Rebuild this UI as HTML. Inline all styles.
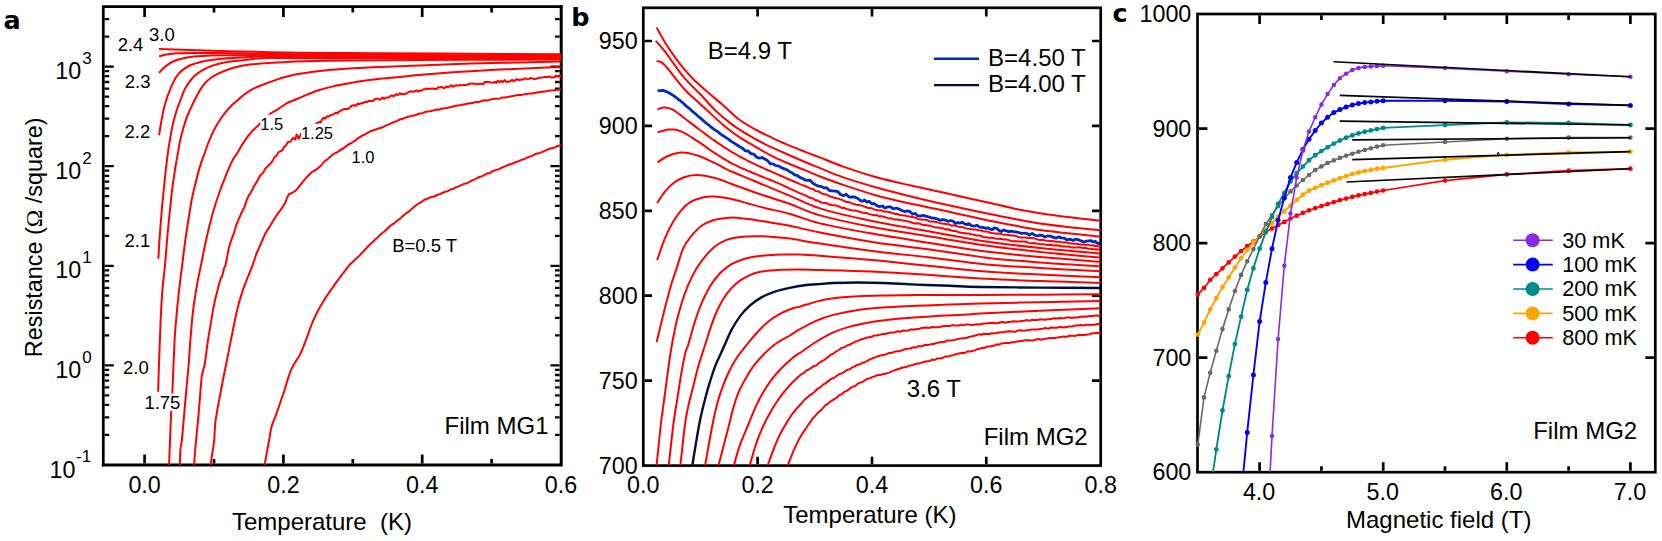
<!DOCTYPE html>
<html lang="en"><head><meta charset="utf-8"><title>Resistance versus temperature and magnetic field</title>
<style>html,body{margin:0;padding:0;background:#fff}body{width:1662px;height:541px;overflow:hidden}svg{display:block}text{font-family:'Liberation Sans', Arial, sans-serif;fill:#000}.b{font-family:'DejaVu Sans', 'Liberation Sans', sans-serif;font-weight:bold;font-size:25.5px}.t{font-size:23.3px}.u{font-size:24px}.s{font-size:18.5px}.s2{font-size:16.5px}.l{font-size:21.7px}.sup{font-size:17px}</style>
</head><body>
<svg width="1662" height="541" viewBox="0 0 1662 541">
<rect width="1662" height="541" fill="#fff"/>
<g id="panel-a">
<clipPath id="ca"><rect x="103.3" y="6.7" width="457.7" height="458.2"/></clipPath>
<path d="M144.6 463.5L144.6 454.5M144.6 8L144.6 17M214 463.5L214 459.1M214 8L214 12.4M283.4 463.5L283.4 454.5M283.4 8L283.4 17M352.8 463.5L352.8 459.1M352.8 8L352.8 12.4M422.2 463.5L422.2 454.5M422.2 8L422.2 17M491.6 463.5L491.6 459.1M491.6 8L491.6 12.4" stroke="#000" stroke-width="2.7" fill="none"/>
<path d="M104.6 434.9L109.2 434.9M559.6 434.9L555 434.9M104.6 417.4L109.2 417.4M559.6 417.4L555 417.4M104.6 404.9L109.2 404.9M559.6 404.9L555 404.9M104.6 395.3L109.2 395.3M559.6 395.3L555 395.3M104.6 387.4L109.2 387.4M559.6 387.4L555 387.4M104.6 380.7L109.2 380.7M559.6 380.7L555 380.7M104.6 375L109.2 375M559.6 375L555 375M104.6 369.9L109.2 369.9M559.6 369.9L555 369.9M104.6 365.3L113.8 365.3M559.6 365.3L550.4 365.3M104.6 335.3L109.2 335.3M559.6 335.3L555 335.3M104.6 317.8L109.2 317.8M559.6 317.8L555 317.8M104.6 305.4L109.2 305.4M559.6 305.4L555 305.4M104.6 295.7L109.2 295.7M559.6 295.7L555 295.7M104.6 287.8L109.2 287.8M559.6 287.8L555 287.8M104.6 281.2L109.2 281.2M559.6 281.2L555 281.2M104.6 275.4L109.2 275.4M559.6 275.4L555 275.4M104.6 270.3L109.2 270.3M559.6 270.3L555 270.3M104.6 265.8L113.8 265.8M559.6 265.8L550.4 265.8M104.6 235.8L109.2 235.8M559.6 235.8L555 235.8M104.6 218.2L109.2 218.2M559.6 218.2L555 218.2M104.6 205.8L109.2 205.8M559.6 205.8L555 205.8M104.6 196.2L109.2 196.2M559.6 196.2L555 196.2M104.6 188.3L109.2 188.3M559.6 188.3L555 188.3M104.6 181.6L109.2 181.6M559.6 181.6L555 181.6M104.6 175.8L109.2 175.8M559.6 175.8L555 175.8M104.6 170.7L109.2 170.7M559.6 170.7L555 170.7M104.6 166.2L113.8 166.2M559.6 166.2L550.4 166.2M104.6 136.2L109.2 136.2M559.6 136.2L555 136.2M104.6 118.7L109.2 118.7M559.6 118.7L555 118.7M104.6 106.2L109.2 106.2M559.6 106.2L555 106.2M104.6 96.6L109.2 96.6M559.6 96.6L555 96.6M104.6 88.7L109.2 88.7M559.6 88.7L555 88.7M104.6 82L109.2 82M559.6 82L555 82M104.6 76.2L109.2 76.2M559.6 76.2L555 76.2M104.6 71.2L109.2 71.2M559.6 71.2L555 71.2M104.6 66.6L113.8 66.6M559.6 66.6L550.4 66.6M104.6 36.6L109.2 36.6M559.6 36.6L555 36.6M104.6 19.1L109.2 19.1M559.6 19.1L555 19.1" stroke="#000" stroke-width="2.3" fill="none"/>
<path d="M103.3 6.7H561M103.3 6.7V464.9" stroke="#000" stroke-width="2.7" fill="none" stroke-linecap="square"/>
<path d="M103.3 465H561.2M561.2 6.7V465" stroke="#000" stroke-width="3" fill="none" stroke-linecap="square"/>
<g clip-path="url(#ca)" fill="none" stroke="#ff0000" stroke-width="2" stroke-linejoin="round" stroke-linecap="butt">
<path d="M158.9 49.1C177.4 49.6 233.2 51.5 270 52.2C306.9 52.9 346.7 52.9 380 53.2C413.3 53.5 439.7 53.6 470 53.8C500.3 54 546.7 54.1 562 54.2"/>
<path d="M159.1 56.4C160.3 56.1 163.5 54.9 166.6 54.4C169.7 53.9 173.1 53.5 177.7 53.3C182.3 53.1 187.9 53 194.4 53C200.9 53 203.9 52.9 216.5 53.1C229.1 53.3 242.8 53.7 270 54C297.2 54.3 331.3 54.5 380 54.8C428.7 55.1 531.7 55.5 562 55.6"/>
<path d="M159.1 73C159.8 72.2 161.7 69.8 163.3 68.3C164.9 66.8 166.9 65.1 168.9 63.8C170.9 62.5 173.1 61.4 175.5 60.5C177.9 59.6 180.2 58.9 183.3 58.3C186.5 57.6 189.8 57.1 194.4 56.6C199 56.1 204.5 55.7 211 55.5C217.5 55.3 223.4 55.2 233.2 55.2C243 55.2 245.5 55.3 270 55.5C294.5 55.7 331.3 56 380 56.2C428.7 56.5 531.7 56.9 562 57"/>
<path d="M159.1 135.1C159.4 133 160.3 127.2 161.1 122.7C161.9 118.2 162.9 112.4 163.9 108.3C164.9 104.2 165.9 101.1 166.9 98C167.9 94.9 168.9 92.6 170 89.9C171.1 87.2 172 84.6 173.3 82.1C174.6 79.6 176 77 177.7 74.9C179.4 72.8 181.1 71.1 183.3 69.4C185.5 67.8 188.2 66.2 191 65C193.8 63.8 196.6 63 199.9 62.2C203.2 61.4 206.4 60.6 211 60C215.6 59.4 221.1 58.8 227.6 58.3C234.1 57.8 242.7 57.2 249.8 56.9C256.9 56.6 248.3 56.4 270 56.4C291.7 56.4 331.3 56.8 380 57C428.7 57.2 531.7 57.7 562 57.8"/>
<path d="M158.3 258.8C158.6 254.5 159.3 241.7 160 232.7C160.7 223.7 161.6 211.4 162.2 205C162.8 198.6 162.8 199.9 163.3 194.4C163.9 188.9 164.7 179.6 165.5 172.2C166.3 164.8 167.6 155.5 168.3 150C169.1 144.5 169.3 143.6 170 139.4C170.7 135.2 171.6 129.7 172.7 124.9C173.8 120.1 175.2 115 176.6 110.5C178 106 180 101.4 181.3 98C182.6 94.6 183.2 92.5 184.4 89.9C185.7 87.4 187.1 85 188.8 82.7C190.5 80.4 192.4 77.9 194.4 76C196.4 74.1 198.4 72.7 201 71.1C203.6 69.5 206.6 67.9 209.9 66.6C213.2 65.3 216.9 64.2 221 63.3C225.1 62.4 229.5 61.8 234.3 61.1C239.1 60.5 243.9 59.9 249.8 59.4C255.8 58.9 248.3 58.3 270 58.1C291.7 57.9 331.3 58.1 380 58.2C428.7 58.3 531.7 58.5 562 58.6"/>
<path d="M158.1 391.7C158.2 388.9 158.3 383.6 158.6 375C158.9 366.4 159.5 349.8 159.9 339.8C160.3 329.8 160.5 323.2 160.9 314.9C161.3 306.6 161.7 298.2 162.4 289.9C163.1 281.6 164.1 274.5 165 265C165.9 255.5 166.8 242.3 167.7 232.7C168.6 223.1 169.4 215.4 170.2 207.5C171 199.6 171.8 192.3 172.7 185.5C173.6 178.7 174.6 172.1 175.5 166.6C176.4 161.1 177.3 156.7 178 152.5C178.7 148.3 179 145.6 179.9 141.6C180.8 137.6 182 132.7 183.3 128.3C184.6 123.9 186 119.2 187.7 115C189.4 110.8 191.4 106.7 193.3 102.8C195.2 98.9 197.4 94.7 199.2 91.5C201 88.3 202.3 86.1 204.3 83.8C206.3 81.5 208.6 79.5 211 77.7C213.4 76 216 74.6 218.8 73.3C221.6 72 224.3 70.8 227.6 69.7C230.9 68.6 235 67.4 238.7 66.6C242.4 65.8 246.1 65.1 249.8 64.6C253.5 64.1 255.5 64 260.9 63.6C266.3 63.2 274.9 62.6 282.2 62.2C289.4 61.8 293.1 61.5 304.4 61.2C315.7 60.9 322.4 60.7 350 60.5C377.6 60.3 434.7 59.9 470 59.8C505.3 59.6 546.7 59.6 562 59.6"/>
<path d="M168.8 468C168.9 467.3 168.7 473.1 169.1 464C169.5 454.9 170.5 425.7 171.1 413.6C171.7 401.6 171.8 404 172.4 391.7C173 379.4 173.9 352.6 174.6 339.8C175.3 327 175.8 323.2 176.6 314.9C177.3 306.6 178.2 298.2 179.1 289.9C180 281.6 181.3 272.1 182.2 265C183.1 257.9 183.6 253.4 184.4 247.1C185.2 240.8 186.2 233.8 187.2 227.2C188.2 220.6 189.6 212.4 190.4 207.5C191.2 202.6 191.2 201.7 192.1 197.7C192.9 193.7 194.2 188.5 195.5 183.3C196.8 178.1 198.3 171.7 199.9 166.6C201.5 161.5 203.4 156.7 204.9 152.5C206.4 148.3 207.2 145.4 208.8 141.6C210.4 137.8 212.3 133.3 214.3 129.4C216.3 125.5 218.4 122 221 118.3C223.6 114.6 226.9 110.3 229.8 107.2C232.7 104.1 235.8 101.8 238.2 99.7C240.6 97.6 242 96.2 244.3 94.5C246.6 92.8 249.3 90.9 252 89.4C254.7 87.9 257.3 87 260.5 85.7C263.7 84.4 267.5 82.9 271.1 81.6C274.7 80.3 278.5 78.8 282.2 77.7C285.9 76.6 288.7 75.8 293.3 74.9C297.9 74 304.4 73 309.9 72.2C315.4 71.4 320 70.9 326.5 70.3C333 69.7 339.8 69.2 348.7 68.6C357.6 68 359.8 67.7 380 66.9C400.2 66.1 439.7 64.5 470 63.6C500.3 62.7 546.7 61.9 562 61.6"/>
<path d="M179.7 468C179.7 467.3 179.8 467 179.9 464C180 461 180.1 453.8 180.4 449.8C180.7 445.8 181.3 445.6 181.9 439.8C182.5 434 183.4 423.2 184.1 414.9C184.8 406.6 185.6 398.2 186.3 389.9C187.1 381.6 187.9 373.3 188.6 365C189.3 356.7 189.7 348.4 190.4 340C191.1 331.6 191.7 323.2 192.6 314.9C193.5 306.5 194.7 298.2 196.1 289.9C197.5 281.6 199.4 272.9 201 265C202.6 257.1 204 249.5 205.5 242.7C207 235.8 208.4 229.8 209.9 223.9C211.4 218 212.7 213 214.4 207.5C216.1 202 218.1 196.2 219.9 191C221.7 185.8 223.4 181.6 225.4 176.6C227.4 171.6 230.1 165.1 232.1 161.1C234.1 157.1 235.9 155.2 237.6 152.5C239.2 149.8 240 148 242 144.9C244 141.8 246.8 137.3 249.8 133.8C252.8 130.3 256.5 127 259.8 123.8C263.1 120.6 266.4 116.8 269.4 114.4C272.4 112 274.8 111.2 277.7 109.4C280.6 107.6 283.4 105 286.6 103.3C289.8 101.6 293.7 100.4 297 99C300.3 97.6 303.2 96.3 306.6 94.9C310.1 93.5 313.4 91.9 317.7 90.5C321.9 89.1 326.9 87.8 332.1 86.6C337.3 85.4 343.1 84.3 348.7 83.3C354.2 82.3 360.2 81.2 365.4 80.5C370.6 79.8 374.3 79.4 380 78.8C385.7 78.2 392.3 77.6 399.8 76.9C407.3 76.2 416.5 75.2 424.8 74.4C433.1 73.7 441.4 73 449.7 72.4C458 71.8 466.4 71.4 474.7 70.9C483 70.4 491.4 70 499.7 69.6C508 69.2 514.2 69 524.6 68.6C535 68.1 555.8 67.2 562 66.9"/>
<path d="M193.8 467.6L193.8 466.7L194.1 464.3L195 452.3L196.1 439.9L197.3 427.9L198.6 413.9L200.1 395.2L201.7 376L203.2 370L204.8 364.1L206.3 352.4L208 339.8L210 328.2L212.3 314.1L213.8 305.9L215.4 298.5L217.3 290.9L218.8 284.9L220.5 279.3L222.4 275.3L224 268.4L225.4 265.8L227.3 255.9L228.7 248.6L230.3 242.9L232.1 237.9L234.2 232.3L236.5 224.3L238.8 219.2L240.9 214.2L242.7 210.3L244.3 207.6L246 202.2L247.6 197.8L249.1 194.9L250.9 192.5L252.7 188.8L254.7 185L256.5 182.4L258.5 178.5L260.5 175.1L262 174L263.7 171.6L265.4 168.4L267.2 166.9L269.2 164.6L271.1 163L272.9 160.2L274.8 156.6L276.6 155.8L278.5 152.1L280.3 151.3L282.2 150.4L284.2 146.7L286.3 144.9L287.7 142.2L290.5 141.5L293.3 137.7L295.3 139.6L296.6 134.4L298.8 138.8L301.6 133"/>
<path d="M315.5 122.7L316.8 124.1L318.7 122L320.4 122.7L322.1 119.4L323.8 117.7L325.2 118.6L326.8 116.2L328.8 116.4L330.3 115.4L332 114.7L333.9 114.1L335.8 112.7L337.6 113.4L339.4 111.1L341.2 110.6L343 109.4L344.8 109.1L346.5 108.7L348.5 108.9L350.4 106.9L352.3 105.4L354.3 105L356 106L357.8 103.4L359.6 104.1L361.4 103L363.1 103.2L365.1 101.8L367 102L368.9 101L370.9 100.8L372.5 101.1L373.9 100.1L375.5 98.9L377.5 98.5L380 99.9L381.3 98.6L382.6 97.6L384.1 98.9L385.6 97.7L387.2 97.6L388.9 97.5L390.6 95.8L392.4 95.5L394.2 96.2L396.1 94.1L397.9 95.1L399.8 93.2L401.3 94.2L402.9 93.9L404.5 94.2L406.1 93.6L407.8 92.6L409.4 91.6L411.1 91.2L412.8 91.8L414.6 91.4L416.3 90.2L418 91.7L419.7 90.6L421.4 90.8L423.1 89.4L424.8 89.2L426.5 88.5L428.1 89L429.8 88.6L431.4 88.7L433.1 88.4L434.8 89.1L436.4 89.1L438.1 87.3L439.7 87.5L441.4 86.8L443.1 87.7L444.7 88.2L446.4 86.3L448 87.4L449.7 86.2L451.4 85.3L453 86.8L454.7 85.7L456.4 85.2L458 85.6L459.7 85L461.4 85.2L463 85.1L464.7 84.9L466.4 85.1L468 84.3L469.7 83.7L471.4 83.5L473 83.4L474.7 84.1L476.4 83.6L478 84.4L479.7 83.6L481.4 83.9L483 84.3L484.7 82.1L486.4 81.9L488 82L489.7 82.3L491.4 82.6L493 82.8L494.7 81.8L496.4 82.9L498 80.7L499.7 82.3L501.3 80.8L502.9 82.1L504.5 80.1L506 82L507.5 81.5L509.1 81.8L510.6 80.8L512.2 79.8L513.7 81.4L515.4 80.1L517.1 79.1L518.8 80.1L520.7 79.7L522.6 79.5L524.6 78.6L526 78.4L527.5 79.3L529.1 78.9L530.8 78L532.6 78.6L534.4 79L536.3 78.8L538.2 78.1L540.1 77.8L542 77.6L543.9 77.1L545.8 76.9L547.7 77.2L549.5 76.3L551.3 77.5L553 77.4L554.6 77L556.1 75.6L557.6 76.2L558.9 76.2L560.1 75.4L561.1 77.2L562 76.7"/>
<path d="M210.2 468L210.2 467.6L210.6 464.3L212.4 452.7L214.3 439.8L214.7 431.7L215.3 422.2L217.9 406.6L221 390L223.5 377.2L226 364.7L228.5 352.4L231 339.7L233.4 327.7L236 315L239.1 302.1L242.8 290.2L246.1 281.4L249.7 272.4L252.6 265.1L254.9 258.2L256.5 253.5L258.7 248.7L260.9 243.5L263.1 238.4L265.3 233.6L267.6 229.6L270 226.1L273 220.9L276 216.2L278.3 212.9L280.5 210.1L283.1 206.2L285.5 202.2L287 198L288.8 194.2L291.8 193L295.5 190.8L298.3 187.6L301.4 183.6L304.4 179.8L307.1 176.8L309.7 174.3L312.1 171.9L315.6 170L318.8 167.6L321.5 165L324.3 161.5L326.6 159.9L329.2 157.7L332.1 155L334.6 153.4L337.4 152.1L340.3 150L343.2 148.5L345.9 146.4L348.6 144.4L351.4 143L354.3 141.2L356.8 139.2L359.5 137.3L362.2 135.7L365 134.5L367.6 132.9L370.6 131.2L373.4 130.3L376.4 129.3L380 128L382.4 127.5L385 125.9L387.7 124.9L390.6 123.6L393.5 122.1L396.6 121.2L399.8 119.5L402.1 119.1L404.5 117.9L406.9 117.3L409.4 116.4L412 115.7L414.6 115.4L417.1 114.5L419.7 113.5L422.3 113.2L424.8 112.1L427.6 111.6L430.3 111.3L433.1 110.5L435.9 109.6L438.6 109.7L441.4 108.7L444.2 108.2L446.9 108L449.7 107.2L452.2 106.7L454.7 106L457.2 105.5L459.7 105.3L462.2 104.6L464.7 104.3L467.2 103.7L469.7 103.2L472.2 103.1L474.7 102.3L477.2 101.9L479.7 101.7L482.2 100.7L484.7 100.3L487.2 100.4L489.7 99.9L492.2 99.1L494.7 98.7L497.2 98.7L499.7 98.4L502.4 97.5L505 97.6L507.5 97.1L510.1 96.5L512.7 96L515.4 95.4L518.2 94.9L521.3 95.1L524.6 94.1L527 94.1L529.6 93.4L532.5 93.4L535.5 92.8L538.6 92.2L541.7 91.7L544.9 91.6L547.9 90.7L550.9 90.4L553.7 90.3L556.2 90.1L558.5 89.7L560.5 89.2L562 89.4"/>
<path d="M264.2 468L264.2 467.6L264.7 464.3L266.8 452.4L269.2 439.8L270.3 432.9L271.4 427.1L273.2 421.9L275.9 415L278.6 407.5L281.8 398L284.7 389.8L287.8 379L290.9 370.1L293.7 364.7L296.9 359.5L299.7 355.3L302.7 348.5L305.9 340.1L308 334.5L310.3 327.8L313 321.1L315.9 314.9L318.1 310.4L320.4 306.3L322.9 302.2L325.4 297.9L328.1 294L330.9 289.9L333.5 286.4L336.2 282.4L339.1 278.5L342 274.6L344.8 271.1L347.3 267.7L349.6 264.8L352.7 261.9L355 259.7L357.2 257.8L359.9 255.1L362.2 252.6L364.6 250L367.3 247.3L369.9 244.5L372.5 242.3L374.9 239.7L378.2 236.9L381.3 233.8L384.3 231.5L387.3 228.8L389.8 226.2L392.3 224.3L394.8 222.8L397.3 220.6L399.8 218.9L402.3 216.5L404.9 214.2L407.5 212.5L410 210.6L412.3 208.4L414.8 206.2L417 204.5L419.3 203.2L422.3 201.3L424.4 199.8L426.6 199L429 197.9L431.6 196.9L434.2 196.5L437 195L439.8 194.1L442.3 193L445 191.8L447.7 191.1L450.5 189.5L453.4 188.7L456.3 187.1L459.2 186.1L462.2 184.7L464.6 183.7L467 183.1L469.5 181.9L472 180.4L474.5 179.6L477.1 178L479.6 177L482.2 176.1L484.7 174.9L487.2 173.4L490 172.9L492.7 171.2L495.5 170.1L498.3 169.4L501 168L503.8 166.8L506.6 165.6L509.3 164.5L512.1 163.8L514.6 162.5L517.1 161.8L519.6 160.6L522.1 159.6L524.6 159L527.1 157.6L529.6 156.7L532.1 155.9L534.6 154.4L537.1 153.5L540 152.9L543.1 151.6L546.3 150.1L549.5 148.8L552.6 148.1L555.5 147.2L558.1 145.7L560.3 145.4L562 144.8"/>
</g>
<rect x="145" y="393.5" width="35.5" height="17.5" fill="#fff"/>
<rect x="260.3" y="114.6" width="23" height="17" fill="#fff"/>
<rect x="301.2" y="123.8" width="32" height="17" fill="#fff"/>
<text class="t" x="144.6" y="493.3" text-anchor="middle">0.0</text>
<text class="t" x="283.4" y="493.3" text-anchor="middle">0.2</text>
<text class="t" x="422.2" y="493.3" text-anchor="middle">0.4</text>
<text class="t" x="561" y="493.3" text-anchor="middle">0.6</text>
<text class="t" x="81.2" y="79.2" text-anchor="end">10</text>
<text class="sup" x="82.2" y="64">3</text>
<text class="t" x="81.2" y="178.8" text-anchor="end">10</text>
<text class="sup" x="82.2" y="163.6">2</text>
<text class="t" x="81.2" y="278.4" text-anchor="end">10</text>
<text class="sup" x="82.2" y="263.1">1</text>
<text class="t" x="81.2" y="377.9" text-anchor="end">10</text>
<text class="sup" x="82.2" y="362.7">0</text>
<text class="t" x="75.4" y="477.5" text-anchor="end">10</text>
<text class="sup" x="76" y="462.3">-1</text>
<text class="u" x="322" y="530.2" text-anchor="middle" xml:space="preserve">Temperature  (K)</text>
<text style="font-size:23.4px" transform="translate(42.3 237.3) rotate(-90)" text-anchor="middle" xml:space="preserve">Resistance (<tspan style="font-family:'Liberation Serif','DejaVu Serif',serif">Ω</tspan> /square)</text>
<text class="b" x="3.5" y="28.9">a</text>
<text class="s" x="149" y="41">3.0</text>
<text class="s" x="117.7" y="51">2.4</text>
<text class="s" x="124.8" y="87.7">2.3</text>
<text class="s" x="124.5" y="138.3">2.2</text>
<text class="s" x="124.5" y="247.4">2.1</text>
<text class="s" x="123" y="374">2.0</text>
<text class="s" x="144.4" y="409">1.75</text>
<text class="s2" x="260.3" y="129.6">1.5</text>
<text class="s2" x="300.9" y="139">1.25</text>
<text class="s2" x="351.6" y="162.6">1.0</text>
<text class="s" x="392.2" y="252.3">B=0.5 T</text>
<text class="u" x="444.5" y="433.5">Film MG1</text>
</g>
<g id="panel-b">
<clipPath id="cb"><rect x="643.3" y="7.8" width="457.4" height="457.8"/></clipPath>
<path d="M757.6 464.1L757.6 456.8M757.6 9.1L757.6 16.5M872 464.1L872 456.8M872 9.1L872 16.5M986.3 464.1L986.3 456.8M986.3 9.1L986.3 16.5M644.6 380.6L652 380.6M1099.4 380.6L1092 380.6M644.6 295.7L652 295.7M1099.4 295.7L1092 295.7M644.6 210.8L652 210.8M1099.4 210.8L1092 210.8M644.6 125.9L652 125.9M1099.4 125.9L1092 125.9M644.6 41L652 41M1099.4 41L1092 41" stroke="#000" stroke-width="2.7" fill="none"/>
<rect x="643.3" y="7.8" width="457.4" height="457.8" fill="none" stroke="#000" stroke-width="2.7"/>
<g clip-path="url(#cb)" fill="none" stroke="#ff0000" stroke-width="2" stroke-linejoin="round">
<path d="M656.6 27.5C658 30 662.2 37.8 665 42.4C667.8 47 670.2 50.6 673.3 54.9C676.3 59.2 679.7 63.9 683.3 68.2C686.9 72.5 690.5 76.4 694.9 80.7C699.3 85 705.2 89.9 709.9 94C714.6 98.1 718.2 101 723.2 105.3C728.2 109.6 734.2 115.9 739.8 120C745.3 124.1 751 127 756.5 130C762 133.1 767.6 135.7 773.1 138.3C778.6 140.9 784.2 143.3 789.7 145.7C795.2 148 801.4 150.4 806.4 152.4C811.4 154.4 813.9 155 820 157.4C826.1 159.8 833.9 163.3 843.3 166.6C852.7 169.9 865.4 174.2 876.5 177.3C887.6 180.4 898.7 182.8 909.8 185.3C920.9 187.9 932 190.2 943.1 192.6C954.2 195 968.6 198.2 976.4 199.9C984.2 201.6 983.4 201.4 990 202.9C996.6 204.4 1007.7 207.2 1016 208.9C1024.3 210.6 1031 211.8 1040 213.2C1049 214.6 1059.7 216 1070 217.3C1080.3 218.6 1096.7 220.3 1102 220.9"/>
<path d="M655.8 40.8C657.3 42.6 662.1 47.9 665 51.6C667.9 55.3 670.2 59 673.3 63.2C676.3 67.4 679.7 72.3 683.3 76.6C686.9 80.9 691.8 85.8 694.9 89C698 92.2 698.3 92 701.6 95.5C704.9 99 709.9 105.2 714.9 110C719.9 114.8 726 119.9 731.5 124.1C737 128.2 742.6 131.6 748.1 134.9C753.6 138.2 759.2 141.3 764.8 144.1C770.3 146.9 775.9 149.1 781.4 151.6C786.9 154.1 791.6 156.2 798 159C804.4 161.8 812.5 165.1 820 168.2C827.5 171.3 833.9 174.2 843.3 177.4C852.7 180.6 865.4 184.4 876.5 187.5C887.6 190.6 898.7 193.4 909.8 196.2C920.9 198.9 930.4 201.2 943.1 204C955.8 206.8 973.9 210.7 986 213.2C998.1 215.7 1007 217.5 1016 219.2C1025 220.9 1031 222.2 1040 223.6C1049 224.9 1059.7 226.2 1070 227.3C1080.3 228.4 1096.7 229.8 1102 230.3"/>
<path d="M656.6 61.2C657.4 61.4 659.7 61.1 661.6 62.4C663.5 63.7 665.8 66.2 668.3 69.1C670.8 72 673.5 76.2 676.6 79.9C679.7 83.6 683 87.8 686.6 91.5C690.2 95.2 694.9 99.2 698.2 102.3C701.5 105.3 702.3 106 706.5 109.8C710.7 113.6 717.7 120.3 723.2 124.9C728.8 129.5 734.2 133.7 739.8 137.4C745.3 141.2 751 144.2 756.5 147.4C762 150.6 767.6 153.8 773.1 156.6C778.6 159.4 784.2 161.7 789.7 164C795.2 166.3 801.4 168.6 806.4 170.7C811.4 172.8 813.9 174.1 820 176.5C826.1 178.9 833.9 181.7 843.3 184.9C852.7 188.1 865.4 192.4 876.5 195.5C887.6 198.6 898.7 201.1 909.8 203.6C920.9 206.1 930.4 207.7 943.1 210.4C955.8 213.1 973.9 217.4 986 220C998.1 222.6 1007 224.1 1016 225.8C1025 227.5 1031 228.7 1040 230C1049 231.3 1059.7 232.2 1070 233.4C1080.3 234.6 1096.7 236.3 1102 236.9"/>
<path d="M657.5 109.6L659.8 108.4L663.3 107.5L665.3 107.6L667.6 107.9L670.2 108.6L673.3 109.9L675.7 111.5L678.3 113.5L681.2 115.6L684.1 118L687.1 120.2L689.9 122.4L692.7 124.4L695.4 126.6L698.2 128.7L701 130.7L703.7 132.8L706.5 134.9L709.3 137L712.1 139L714.9 140.9L717.6 142.9L720.4 144.7L723.2 146.6L726 148.3L728.7 150L731.5 151.9L734.3 153.4L737 155L739.8 156.7L742.6 158.1L745.4 159.5L748.1 161L750.9 162.3L753.7 163.6L756.5 164.9L759.3 166.3L762 167.5L764.8 168.8L767.6 170L770.3 171.1L773.1 172.4L775.8 173.6L778.5 174.8L781.2 176L783.9 177.2L786.7 178.5L789.7 179.7L792.1 180.8L794.6 181.8L797.2 182.9L799.9 184.1L802.5 185.1L805.1 186L807.6 187.2L810 188.4L813 189L815.8 191.1L818.5 191.3L821.2 193.1L823.9 194.3L826.6 194.5L829.4 196.3L832.2 196.9L835 198.1L837.7 198.4L840.5 199.4L843.3 200.4L846.1 202L849 202.1L851.9 203.4L854.7 204.3L857.4 205.1L859.9 205.1L863 206.1L865.7 207L868.4 208.1L872 208.3L874.1 209.4L876.3 210L878.6 210.5L881.1 210.2L883.7 211.7L886.6 211.4L889.7 212.3L893.2 213.3L895.3 214.1L897.5 214L899.7 215L902 215.2L904.4 215.4L906.9 216L909.4 216.4L912.1 216.9L914.8 217.5L917.6 218.7L920.6 219.6L923.6 219.4L926.7 219.9L930 221.5L932.1 221.5L934.4 221.8L936.7 222.1L939 222.9L941.5 223.6L943.9 223.7L946.5 224.2L949 224.3L951.6 225.7L954.3 225.3L956.9 226.3L959.6 227.1L962.3 226.9L965 228.1L967.7 228.8L970.4 229L973 229.6L975.7 229.4L978.3 230.2L980.9 230.4L983.5 231.5L986 231.4L988.6 232L991.2 233L993.7 233.2L996.3 233.8L998.8 233.6L1001.3 234.1L1003.9 234.7L1006.4 234.8L1008.9 235L1011.4 235.5L1013.9 235.6L1016.4 236.2L1018.9 237.2L1021.5 237.5L1024 237.5L1026.6 237.7L1029.2 237.9L1031.9 238L1034.6 238.6L1037.3 239.4L1040 239.9L1042.5 239.7L1045.1 240.4L1047.8 240.7L1050.6 241L1053.5 241.3L1056.4 241.8L1059.4 241.7L1062.4 242.4L1065.4 242.3L1068.4 242.9L1071.4 243.5L1074.4 243.7L1077.3 243.7L1080.2 244.6L1082.9 244.6L1085.6 244.9L1088.2 244.6L1090.7 245.4L1093 245.3L1095.2 246L1097.2 246L1099 246.6L1100.6 246.6L1102 246.9"/>
<path d="M657.5 132.4L659.5 131.8L662.3 131L665 130.3L668.1 129.6L671.6 129.5L673.7 129.5L676 129.8L678.6 130.5L681.6 131.6L684 132.9L686.6 134.2L689.5 136L692.4 137.8L695.4 139.8L698.2 141.6L701 143.4L703.8 145.4L706.6 147.4L709.3 149.5L712.1 151.4L714.9 153.1L717.7 155L720.4 156.7L723.2 158.5L726 160L728.7 161.6L731.5 163.3L734.3 164.6L737 165.9L739.8 167.3L742.6 168.5L745.3 169.6L748.1 170.9L750.9 172L753.8 173.3L756.7 174.4L759.5 175.7L762.2 176.8L764.8 177.9L767.4 178.9L769.5 179.7L771.6 180.5L774.3 181.6L778.1 183.2L780.2 184.1L782.5 185.2L785.1 186.5L787.9 187.6L790.8 189.1L793.8 190.4L796.9 191.8L799.8 193.2L802.7 194.4L805.4 195.4L807.8 196.7L810 197.8L813.3 198.6L815.6 200.5L817.5 200.3L819.5 201.8L822.3 202.8L826.6 203.1L828.4 204.4L830.3 204.5L832.4 205.2L834.5 205.2L836.8 205.8L839.1 206.5L841.6 207.9L844.1 207.8L846.7 209L849.4 209.8L852.1 210.4L854.9 210.5L857.7 211.1L860.5 212L863.4 212.9L866.2 212.8L869.1 214.1L872 214.8L874.3 215.3L876.6 215L879 216.4L881.4 216.1L883.8 216.8L886.3 217.6L888.8 218.4L891.3 218.3L893.9 219.4L896.4 219.5L899 219.8L901.6 220.3L904.2 220.7L906.9 221.1L909.5 221.7L912.1 222.7L914.7 223.5L917.3 223.2L919.9 223.6L922.4 225L925 225.1L927.5 225.4L930 225.7L932.6 226.6L935.2 227.4L937.8 227.5L940.3 228L942.9 228.2L945.5 229.5L948 229.2L950.6 230.2L953.2 231L955.7 230.9L958.2 232L960.8 232.7L963.3 232.9L965.9 233.5L968.4 233.4L970.9 234.2L973.4 234.4L976 235.5L978.5 235.4L981 236L983.5 237L986 237.3L988.6 237.8L991.2 237.7L993.7 238.1L996.3 238.7L998.8 238.8L1001.3 239L1003.9 239.4L1006.4 239.5L1008.9 240.1L1011.4 241L1013.9 241.3L1016.4 241.2L1018.9 241.4L1021.5 241.6L1024 241.6L1026.6 242.1L1029.2 242.9L1031.9 243.3L1034.6 243.1L1037.3 243.8L1040 244.1L1042.5 244.3L1045.1 244.5L1047.8 244.9L1050.6 244.8L1053.5 245.4L1056.4 245.3L1059.4 245.8L1062.4 246.4L1065.4 246.6L1068.4 246.5L1071.4 247.4L1074.4 247.4L1077.3 247.6L1080.2 247.3L1082.9 248.1L1085.6 248L1088.2 248.7L1090.7 248.7L1093 249.3L1095.2 249.3L1097.2 249.6L1099 249.4L1100.6 249.8L1102 250"/>
<path d="M657.5 162.4C659.2 161.3 664 157.7 668 156C672 154.3 676.6 152.5 681.6 152.4C686.6 152.3 692.7 153.9 698.2 155.7C703.8 157.5 709.4 160.6 714.9 163.2C720.4 165.8 726 169 731.5 171.5C737 174 743.1 176.2 748.1 178.3C753.1 180.4 754.4 181.1 761.4 184C768.4 186.9 780.2 191.7 790 195.8C799.8 199.9 806.3 204.2 820 208.4C833.7 212.6 853.7 217.2 872 221C890.3 224.8 911 228.1 930 231.5C949 234.9 967.7 238.8 986 241.5C1004.3 244.2 1020.7 246 1040 248C1059.3 250 1091.7 252.8 1102 253.7"/>
<path d="M657.1 203C658.4 201.1 662.3 194.9 665 191.6C667.7 188.3 670.2 185.7 673.3 183.3C676.3 181 679.4 178.9 683.3 177.5C687.2 176.1 691.3 174.9 696.6 175C701.9 175.1 709.1 176.5 714.9 178C720.7 179.5 726 182 731.5 184C737 186 742.6 188 748.1 190C753.6 192 757.8 193.5 764.8 195.8C771.8 198.1 780.8 200.7 790 204C799.2 207.3 806.3 211.6 820 215.4C833.7 219.2 853.7 223.5 872 227C890.3 230.5 911 233.4 930 236.5C949 239.6 967.7 242.9 986 245.5C1004.3 248.1 1020.7 250 1040 252C1059.3 254 1091.7 256.8 1102 257.7"/>
<path d="M657.1 260.2C658.4 256.5 662.3 244.6 665 238.2C667.7 231.8 670.5 226.3 673.3 221.6C676.1 216.9 678.8 213.1 681.6 209.9C684.4 206.7 686.6 204.4 689.9 202.4C693.2 200.4 697.7 198.8 701.6 197.8C705.5 196.8 708.2 196.4 713.2 196.6C718.2 196.8 725.7 197.9 731.5 199.1C737.3 200.2 742.6 202 748.1 203.5C753.6 205 757.8 206.2 764.8 208C771.8 209.8 780.8 211.4 790 214C799.2 216.6 806.3 220.1 820 223.4C833.7 226.7 853.7 230.3 872 233.6C890.3 236.9 911 240 930 243C949 246 967.7 249.3 986 251.6C1004.3 253.9 1020.7 255.3 1040 257C1059.3 258.7 1091.7 261.2 1102 262"/>
<path d="M656.6 342.3C657.4 338.8 659.9 328.3 661.6 321.5C663.3 314.7 664.9 308 666.6 301.6C668.3 295.2 669.9 288.9 671.6 283.3C673.3 277.8 674.7 274.2 676.6 268.3C678.5 262.4 680.8 253.6 683.3 248.2C685.8 242.8 688.5 239.4 691.6 235.7C694.7 231.9 698 228.3 701.6 225.7C705.2 223.1 709.1 221.5 713.2 220.2C717.4 218.9 722.6 218.3 726.5 217.9C730.4 217.5 731.5 217.4 736.5 217.8C741.5 218.2 750.4 219.3 756.5 220.2C762.6 221.1 767.5 222.1 773.1 223C778.7 223.9 782.2 224.2 790 225.8C797.8 227.4 806.3 229.9 820 232.6C833.7 235.3 853.7 239.2 872 242C890.3 244.8 911 246.9 930 249.5C949 252.1 967.7 255.5 986 257.7C1004.3 259.9 1020.7 261 1040 262.5C1059.3 264 1091.7 265.8 1102 266.5"/>
<path d="M655.8 470C655.9 469.2 655.8 472.5 656.6 465C657.4 457.5 659.4 437 660.8 425C662.2 413 663.8 402.6 665 393.2C666.2 383.8 667.2 376.1 668.3 368.3C669.4 360.5 670.2 354.3 671.6 346.5C673 338.7 674.9 328.7 676.6 321.5C678.3 314.3 679.7 309.3 681.6 303.2C683.5 297.1 685.7 290.7 688.2 284.9C690.7 279.1 693.6 273.3 696.6 268.3C699.6 263.3 703.5 258.5 706.5 254.9C709.5 251.3 711.6 249 714.9 246.5C718.2 244 722.4 241.5 726.5 239.9C730.6 238.3 734.8 237.5 739.8 236.9C744.8 236.3 751 236.2 756.5 236.2C762 236.2 767.6 236.5 773.1 236.9C778.6 237.3 781.9 237.5 789.7 238.6C797.5 239.7 806.3 241.5 820 243.6C833.7 245.7 853.7 248.7 872 251C890.3 253.3 911 255.3 930 257.5C949 259.7 967.7 262.6 986 264.4C1004.3 266.1 1020.7 266.8 1040 268C1059.3 269.2 1091.7 270.8 1102 271.4"/>
<path d="M668.2 470C668.3 469.2 667.9 472.5 668.8 465C669.6 457.5 671.9 436.1 673.3 425C674.7 413.9 676 407.1 677.4 398.2C678.8 389.3 680.2 379.4 681.6 371.6C683 363.8 684.6 356 685.7 351.6C686.8 347.2 686.7 350 688.2 345C689.7 340 692.7 328.5 694.9 321.5C697.1 314.5 699.1 309 701.6 303.2C704.1 297.4 706.9 291.6 709.9 286.6C712.9 281.6 716.3 277.1 719.9 273.3C723.5 269.6 727.4 266.5 731.5 264.1C735.6 261.7 740.1 260.1 744.8 258.7C749.5 257.3 753.7 256.7 759.8 256C765.9 255.3 774.7 254.7 781.4 254.5C788.1 254.3 793.6 254.4 800 254.6C806.4 254.8 808 254.9 820 255.8C832 256.7 853.7 258.3 872 260C890.3 261.7 911 264.1 930 266C949 267.9 967.7 270.2 986 271.6C1004.3 273 1020.7 273.6 1040 274.5C1059.3 275.4 1091.7 276.8 1102 277.2"/>
<path d="M679.6 470C679.7 469.2 679.5 472.5 680.4 465C681.3 457.5 683.6 434.8 684.9 425C686.2 415.2 686.8 412.9 688.2 406.5C689.6 400.1 691.5 393.2 693.2 386.6C694.9 380 696.4 373 698.2 366.6C700 360.2 701.8 355.2 704 348.3C706.2 341.4 709.1 331.6 711.5 324.9C713.9 318.2 715.7 313.3 718.2 308.2C720.7 303.1 723.5 298.2 726.5 294.1C729.5 290 732.9 286.4 736.5 283.3C740.1 280.2 744 277.8 748.1 275.8C752.2 273.9 756.4 272.6 761.4 271.6C766.4 270.6 772 270.4 778.1 270C784.2 269.6 791 269.5 798 269.5C805 269.5 807.7 269.7 820 270C832.3 270.3 853.7 270.7 872 271.5C890.3 272.3 911 273.8 930 275C949 276.2 967.7 277.8 986 278.8C1004.3 279.8 1020.7 280.3 1040 281C1059.3 281.7 1091.7 282.7 1102 283"/>
<path d="M704.4 470C704.5 469.2 703.9 472.5 705.2 465C706.5 457.5 710.5 434.8 712.4 425C714.3 415.2 715 412.4 716.5 406.5C718 400.6 719.5 395.4 721.5 389.9C723.5 384.4 725.7 378.6 728.2 373.3C730.7 368 733.5 363 736.5 358.3C739.5 353.6 743.2 349.2 746.5 345C749.8 340.8 753.2 336.8 756.5 333.2C759.8 329.6 762.8 326.2 766.4 323.2C770 320.1 773.9 317.3 778.1 314.9C782.3 312.5 787.8 310.1 791.4 308.7C795 307.3 795.8 307.8 800 306.6C804.2 305.4 811.1 303 816.6 301.6C822.1 300.2 826.4 299.2 833.3 298.3C840.2 297.4 849.9 296.8 858.2 296.3C866.5 295.8 873.5 295.7 883.2 295.5C892.9 295.3 900.4 295.1 916.5 295C932.6 294.9 959.4 295.1 980 295C1000.6 294.9 1019.7 294.8 1040 294.7C1060.3 294.6 1091.7 294.4 1102 294.3"/>
<path d="M718 470C718.1 469.2 716.9 472.5 718.7 465C720.5 457.5 726.6 434.5 729 425C731.4 415.5 731.7 413.5 733.2 408.2C734.7 402.9 736.3 397.9 738.2 393.2C740.1 388.5 742.3 384.3 744.8 379.9C747.3 375.5 750 370.8 753.1 366.6C756.2 362.5 759.2 358.9 763.1 355C767 351.1 771.8 346.6 776.4 343.3C781 340 786.7 337.4 790.6 335C794.5 332.6 795.7 331.5 800 329.1C804.3 326.7 811.1 323.1 816.6 320.7C822.1 318.3 826.4 316.7 833.3 314.9C840.2 313.1 849.9 311.1 858.2 309.9C866.5 308.6 873.5 308.1 883.2 307.4C892.9 306.7 905.4 306.3 916.5 305.8C927.6 305.3 939.1 305 949.7 304.6C960.3 304.2 965 304 980 303.6C995 303.2 1019.7 302.6 1040 302.2C1060.3 301.8 1091.7 301.2 1102 301"/>
<path d="M733.2 470C733.3 469.2 732.9 469.2 734 465C735.1 460.8 737.6 451.5 740 444.8C742.4 438.1 745.4 431.6 748.1 425C750.9 418.4 754 410.3 756.5 404.9C759 399.5 760.6 396.6 763.1 392.4C765.6 388.2 768.4 383.9 771.4 379.9C774.4 375.9 777.8 372 781.4 368.3C785 364.6 789.6 360.4 793.1 357.5C796.6 354.6 798.5 353.9 802.4 351.2C806.3 348.5 811.5 344.6 816.6 341.5C821.8 338.4 827.8 334.9 833.3 332.4C838.8 329.9 843 328.4 849.9 326.6C856.8 324.8 866.6 322.9 874.9 321.6C883.2 320.3 890.1 319.5 899.8 318.6C909.5 317.7 922 317 933.1 316.3C944.2 315.6 958.6 315.1 966.4 314.6C974.2 314.2 967.7 314.2 980 313.6C992.3 313 1019.7 311.7 1040 310.8C1060.3 309.9 1091.7 308.6 1102 308.2"/>
<path d="M748.8 470L748.8 469.1L749.8 465L751.8 458.1L754.5 448.8L757.5 439.9L759.8 433.9L762.2 428.3L764.8 422.8L767.5 417.4L770.4 412.2L773.4 407L776.6 402.2L779.9 397.4L782.3 394.2L784.8 391.1L787.5 387.9L790.1 385L792.6 382.3L794.9 380L798.1 377L801 374.4L803.7 373.1L806.4 370.6L808.9 369.5L811.2 367.8L813.6 366.3L816.6 365.4L819 363L821.7 361.1L824.6 359.8L827.5 357.5L830.4 354.9L833.3 353.7L836.1 351.5L838.8 350L841.6 347.9L844.4 347.2L847.1 345.5L849.9 344.5L852.7 343.2L855.4 341.6L858.2 340.6L861 339.5L863.7 338.7L866.5 337.8L869.1 337.2L871.4 336.8L873.8 335.6L876.4 335.6L879.5 334.7L883.2 333.9L885.2 334.1L887.4 333.3L889.8 332.8L892.2 332.6L894.8 332.4L897.5 331.3L900.2 331.8L902.9 330.5L905.7 330.8L908.5 330.5L911.2 329.3L913.9 329.7L916.5 329L919.1 328.9L921.6 328L924.2 327.7L926.8 327.6L929.4 328L932 327L934.6 327.3L937.1 327.2L939.7 327L942.2 326.2L944.8 326L947.2 325.9L949.7 326L952.2 325.1L954.6 325.6L956.8 325.5L958.9 325.5L961 324.6L963.2 325.4L965.4 324.5L967.8 324.6L970.4 324.8L973.3 324.9L976.4 324.2L980 324.5L981.9 324L984 323.6L986.1 323.5L988.3 323.2L990.5 322.9L992.9 322.8L995.3 323.2L997.7 323.3L1000.2 322.3L1002.8 322L1005.4 322.7L1008 322L1010.7 321.7L1013.4 321.3L1016 321.5L1018.8 321.5L1021.5 320.9L1024.2 320.7L1026.9 320.1L1029.5 320.8L1032.2 319.7L1034.8 320L1037.4 320.1L1040 319.2L1042.6 319.6L1045.3 319.7L1048.1 319.2L1050.9 319.1L1053.9 318.2L1056.8 318.4L1059.8 317.9L1062.8 318.4L1065.8 317.6L1068.8 317.6L1071.8 317.9L1074.8 317.6L1077.6 317.5L1080.5 316.8L1083.2 316.6L1085.9 316.7L1088.4 316.3L1090.8 315.9L1093.1 315.9L1095.2 315.5L1097.2 315.6L1099 316.1L1100.6 316L1102 315.5"/>
<path d="M766.6 470L766.6 469.1L767.8 465L770.3 458.1L773.7 448.8L777.4 439.9L779.7 435L782.2 430.3L784.8 425.8L787.4 421.4L789.9 417.5L792.4 413.8L794.9 410.7L797.4 407.7L799.9 405L802.4 402.5L804.8 399.5L807.2 397.4L809.5 395.4L812.1 393.9L814.9 391.5L817.5 388.8L820.2 387.4L823.1 384.6L826.1 382.9L829.2 380.4L832.3 378.2L834.7 377.6L837.1 375.5L839.5 374L842 373.4L844.5 371.8L847.1 369.9L849.7 369.2L852.3 367.4L854.7 366.4L857.1 364.8L859.6 364.4L862 363L864.6 362.2L867.1 361.1L869.7 359.4L872.3 358.5L874.9 357.4L877.6 356.4L880.3 355.5L883 354.9L885.8 354.4L888.6 353.1L891.4 353L894.2 351.9L897 351.2L899.8 351L902.4 350.1L905 349.3L907.7 348.8L910.4 348.5L913.1 347.2L915.8 347.6L918.3 346.1L920.7 346.4L922.8 346L924.8 344.8L928.6 344.9L931.3 344.1L933.7 344L936.4 343L938.9 342.5L941.4 342L944.1 342.1L946.8 340.6L949.7 340.6L952.3 340.3L955.1 339.9L958 338.9L960.9 338.5L963.8 338.3L966.4 338.1L968.6 336.9L969.8 336.9L971.4 336.4L974.4 335.8L980 334.1L981.6 334.9L983.4 333.8L985.3 333.9L987.3 333.9L989.4 334L991.7 333.2L994 333.6L996.5 332.9L999 332.5L1001.6 332.2L1004.3 331.9L1007 331.5L1009.7 331.3L1012.5 331.6L1015.3 331.7L1018.1 330.6L1021 330.2L1023.8 330.9L1026.6 330.2L1029.3 329.9L1032.1 329.4L1034.8 329.6L1037.4 329.6L1040 329L1042.6 328.7L1045.3 328.1L1048.1 328.7L1050.9 327.6L1053.9 327.8L1056.8 327.8L1059.8 326.9L1062.8 327.2L1065.8 327.2L1068.8 326.6L1071.8 326.5L1074.8 325.6L1077.6 325.6L1080.5 325.1L1083.2 325.6L1085.9 324.8L1088.4 324.7L1090.8 325.1L1093.1 324.7L1095.2 324.7L1097.2 324L1099 323.8L1100.6 324L1102 323.6"/>
<path d="M786.4 470L786.6 468.8L787.9 464.8L790.4 458.6L793.7 450.3L797.4 442.4L799.7 438L802.2 433.8L804.8 430.2L807.4 426L809.9 422.7L812.4 418.7L814.9 416.2L817.4 413.3L819.9 411L822.4 408.7L825.4 405.4L828.3 403.2L831.3 400.9L834.8 399L837 397.3L839.4 395.1L841.9 394.1L844.5 391.8L847.2 390.6L849.8 388.5L852.3 386.9L854.8 386.3L857.2 384.2L859.7 382.7L862.1 382.1L864.6 380.7L867.2 378.8L869.8 378.4L872.5 376.9L875.2 376.2L877.9 374.9L880.7 374.9L883.6 373.9L886.6 373.4L889.7 372.4L892 371.1L894.4 370.4L896.8 369.5L899.3 368.7L901.9 367.8L904.5 367.2L907 366.7L909.6 365.4L912.2 365.3L914.7 364.2L917.2 363.5L919.7 363.4L922.2 362.4L924.7 361.7L927.2 361.2L929.7 360.9L932.2 359.6L934.7 360L937.2 358.4L939.7 358.5L942.5 358L945.2 356.5L948 356.6L950.8 355.6L953.5 355.2L956.3 354L959.1 353.4L961.8 352.8L964.6 353L967.1 351.6L969.7 351.5L972.2 351.1L974.8 350.4L977.4 349.2L979.9 348.6L982.4 348.1L984.9 347.8L987.3 346.5L989.6 346.6L992.2 346.1L994.6 345.6L996.7 344.3L998.9 344.8L1001.1 343.5L1003.6 343.3L1006.5 343.1L1010 342.9L1011.9 342.1L1014 342.4L1016.1 341.8L1018.3 341.3L1020.6 341.1L1023 340.7L1025.5 340.3L1028 340.2L1030.6 340.4L1033.3 340.5L1036 339.4L1038.7 339L1041.5 339.7L1044.3 338.9L1047.1 338.5L1050 338L1052.4 338.1L1054.9 338.1L1057.6 337.4L1060.5 337.1L1063.4 336.4L1066.4 336.9L1069.4 335.7L1072.4 335.8L1075.5 335.9L1078.5 334.8L1081.5 335.1L1084.4 335L1087.2 334.4L1089.8 334.2L1092.4 333.3L1094.7 333.3L1096.9 332.8L1098.9 333.3L1100.6 332.6L1102 332.6"/>
<path d="M657.5 90.9L659.8 90.6L663 90.4L666.3 91.6L670 93.6L672.5 94.9L675.2 96.8L678.3 99.4L680.9 101.2L683.6 103.5L686.6 106.4L689.9 109L692.4 111.3L695.1 113.5L697.9 116L700.8 118.4L703.7 121L706.5 123.4L709.3 125.5L712.1 127.8L714.9 129.8L717.6 131.6L720.4 133.9L723.2 135.8L726 137.6L728.7 139.4L731.5 141.6L734.3 143.2L737 145L739.8 146.8L742.6 148.3L745.4 150.9L748.1 151L750.9 153.6L753.7 154.1L756.5 156.9L759.3 158.2L762 157.5L764.8 159L767.6 160.6L770.3 163.9L773.1 163.8L775.8 165.6L778.5 165.9L781.2 167.7L783.9 168.6L786.7 169.7L789.7 171.7L792.1 172.8L794.6 174.9L797.2 175.5L799.9 177.4L802.5 178.5L805.1 180L807.6 180.4L810 180.1L813 183.4L815.8 185L818.5 186.1L821.2 186.4L823.9 187.9L826.6 187.7L829.4 190.5L832.2 190.8L835 191.1L837.7 191.5L840.5 194.5L843.3 195.8L846.1 194.3L849 197.1L851.9 196.9L854.7 197L857.4 198.2L859.9 200.2L862.5 201.3L864.6 199.9L866.7 202.1L869.1 201.3L872 204L874.2 203.5L876.8 205.6L879.5 206.6L882.3 206L885.2 208L888 206.8L890.7 206.8L893.2 208.8L896.2 208L899.1 209.1L901.8 210.4L904.4 211.6L907.1 211L909.8 211.4L912.5 214.2L915 213.3L917.5 215.7L920.2 216.1L923.1 215.4L926.5 216.3L928.5 216.9L930.6 217.6L932.9 218L935.2 218.3L937.6 219L940 220.3L942.5 219.7L945.1 220L947.7 221.3L950.4 220.5L953.1 221.2L955.4 223.4L957.6 222.6L959.8 223.2L962.1 222.2L964.3 223.7L966.7 224.6L969 223.6L971.5 225.7L974.1 226.2L976.8 225.2L979.7 227.2L982.8 227.3L986 228.4L988 227.8L990.1 229.1L992.2 229.5L994.4 227.9L996.7 228.4L999 230.4L1001.3 231.5L1003.7 230L1006.2 230.9L1008.7 231.6L1011.2 231.2L1013.7 231.7L1016.3 232L1018.9 232.5L1021.5 233.5L1024.1 233L1026.8 233.6L1029.4 235L1032.1 233.4L1034.7 235.2L1037.4 236L1040 235.2L1042.4 235.3L1044.9 237.1L1047.5 235.9L1050.1 236.1L1052.9 237.1L1055.7 238.2L1058.5 236.9L1061.4 237.8L1064.3 238.2L1067.2 239.9L1070.1 239.2L1073 240.6L1075.8 239.1L1078.6 239.9L1081.3 241L1083.9 242L1086.5 241.1L1088.9 240.8L1091.2 240.7L1093.4 242.1L1095.5 241.4L1097.4 243.3L1099.1 243.6L1100.7 242L1102 242.4" stroke="#0029c4" stroke-width="2.8"/>
<path d="M691.6 470C691.7 469.2 691.1 472.5 692.4 465C693.6 457.5 697.3 434.8 699.1 425C700.9 415.2 701.6 413.2 703.2 406.5C704.9 399.8 706.9 391.8 709 384.9C711.1 378 713.3 371 715.7 364.9C718.1 358.8 720.6 354.1 723.2 348.3C725.8 342.5 728.7 335.2 731.5 329.9C734.3 324.6 736.8 320.6 739.8 316.6C742.8 312.6 746.2 308.9 749.8 305.7C753.4 302.5 757.2 299.8 761.4 297.4C765.6 295 770.1 293.2 774.8 291.6C779.5 290 784.4 288.9 789.7 287.8C795 286.7 801.9 285.6 806.4 285C810.9 284.4 812.1 284.6 816.6 284.3C821.1 284 826.4 283.3 833.3 283C840.2 282.7 849.9 282.5 858.2 282.5C866.5 282.5 873.5 282.6 883.2 283C892.9 283.4 905.4 284.1 916.5 284.6C927.6 285.1 939.1 285.4 949.7 285.8C960.3 286.2 965 286.7 980 287C995 287.3 1019.7 287.4 1040 287.6C1060.3 287.8 1091.7 287.9 1102 288" stroke="#000f3c" stroke-width="2.4"/>
</g>
<text class="t" x="643.3" y="493.3" text-anchor="middle">0.0</text>
<text class="t" x="757.6" y="493.3" text-anchor="middle">0.2</text>
<text class="t" x="872" y="493.3" text-anchor="middle">0.4</text>
<text class="t" x="986.3" y="493.3" text-anchor="middle">0.6</text>
<text class="t" x="1100.7" y="493.3" text-anchor="middle">0.8</text>
<text class="t" x="637.6" y="473.8" text-anchor="end">700</text>
<text class="t" x="637.6" y="388.9" text-anchor="end">750</text>
<text class="t" x="637.6" y="304" text-anchor="end">800</text>
<text class="t" x="637.6" y="219.1" text-anchor="end">850</text>
<text class="t" x="637.6" y="134.2" text-anchor="end">900</text>
<text class="t" x="637.6" y="49.3" text-anchor="end">950</text>
<text class="u" x="869.9" y="523" text-anchor="middle">Temperature (K)</text>
<text class="b" x="571.3" y="25.5">b</text>
<text class="u" x="707.7" y="59.1">B=4.9 T</text>
<text class="u" x="906.7" y="396.9">3.6 T</text>
<text class="u" x="983.7" y="444.8">Film MG2</text>
<path d="M934 58.7H979" stroke="#0029c4" stroke-width="2.4"/>
<path d="M934 85.1H979" stroke="#000f3c" stroke-width="2.4"/>
<text class="u" x="988.1" y="66">B=4.50 T</text>
<text class="u" x="988.1" y="92.4">B=4.00 T</text>
</g>
<g id="panel-c">
<clipPath id="cc"><rect x="1194.5" y="14" width="460.8" height="458.2"/></clipPath>
<path d="M1259.6 470.8L1259.6 462.2M1259.6 15.3L1259.6 23.9M1321.4 470.8L1321.4 466.3M1321.4 15.3L1321.4 19.9M1383.2 470.8L1383.2 462.2M1383.2 15.3L1383.2 23.9M1445 470.8L1445 466.3M1445 15.3L1445 19.9M1506.8 470.8L1506.8 462.2M1506.8 15.3L1506.8 23.9M1568.6 470.8L1568.6 466.3M1568.6 15.3L1568.6 19.9M1630.4 470.8L1630.4 462.2M1630.4 15.3L1630.4 23.9M1198.8 357.6L1207.4 357.6M1654 357.6L1645.4 357.6M1198.8 243.1L1207.4 243.1M1654 243.1L1645.4 243.1M1198.8 128.6L1207.4 128.6M1654 128.6L1645.4 128.6" stroke="#000" stroke-width="2.7" fill="none"/>
<rect x="1197.5" y="14" width="457.8" height="458.2" fill="none" stroke="#000" stroke-width="2.7"/>
<g clip-path="url(#cc)">
<path d="M1197.8 294.6L1204 287.9L1210.2 279.9L1216.3 274.1L1222.5 268.3L1228.7 262.4L1234.9 256.6L1241.1 251.1L1247.2 246.1L1253.4 241.7L1259.6 236.6L1265.8 232.3L1272 228.5L1278.1 225.2L1284.3 221.9L1290.5 218.5L1296.7 215.7L1302.9 212.9L1309 210.3L1315.2 208.2L1321.4 206.1L1327.6 204.1L1333.8 202.1L1339.9 200.2L1346.1 198.6L1352.3 196.9L1358.5 195.4L1364.7 194.1L1370.8 192.9L1377 191.6L1383.2 190.5L1445 180.6L1506.8 174.4L1568.6 170.7L1630.4 168.7" fill="none" stroke="#ff0000" stroke-width="1.7" stroke-linejoin="round"/>
<path d="M1197.8 294.6h0M1204 287.9h0M1210.2 279.9h0M1216.3 274.1h0M1222.5 268.3h0M1228.7 262.4h0M1234.9 256.6h0M1241.1 251.1h0M1247.2 246.1h0M1253.4 241.7h0M1259.6 236.6h0M1265.8 232.3h0M1272 228.5h0M1278.1 225.2h0M1284.3 221.9h0M1290.5 218.5h0M1296.7 215.7h0M1302.9 212.9h0M1309 210.3h0M1315.2 208.2h0M1321.4 206.1h0M1327.6 204.1h0M1333.8 202.1h0M1339.9 200.2h0M1346.1 198.6h0M1352.3 196.9h0M1358.5 195.4h0M1364.7 194.1h0M1370.8 192.9h0M1377 191.6h0M1383.2 190.5h0M1445 180.6h0M1506.8 174.4h0M1568.6 170.7h0M1630.4 168.7h0" fill="none" stroke="#ff0000" stroke-width="4.7" stroke-linecap="round"/>
<path d="M1197.8 334.6L1204 322.6L1210.2 309.4L1216.3 298.2L1222.5 287.1L1228.7 277.4L1234.9 267.4L1241.1 258.3L1247.2 250L1253.4 242.5L1259.6 236.1L1265.8 229.9L1272 223.2L1278.1 216.7L1284.3 211.2L1290.5 205.7L1296.7 199.9L1302.9 194.8L1309 190.8L1315.2 187.9L1321.4 185.3L1327.6 182.8L1333.8 180.4L1339.9 178.3L1346.1 176.1L1352.3 174.1L1358.5 172.5L1364.7 171.1L1370.8 170L1377 168.8L1383.2 168L1445 159.8L1506.8 154.9L1568.6 152.4L1630.4 151.7" fill="none" stroke="#ffa500" stroke-width="1.9" stroke-linejoin="round"/>
<path d="M1197.8 334.6h0M1204 322.6h0M1210.2 309.4h0M1216.3 298.2h0M1222.5 287.1h0M1228.7 277.4h0M1234.9 267.4h0M1241.1 258.3h0M1247.2 250h0M1253.4 242.5h0M1259.6 236.1h0M1265.8 229.9h0M1272 223.2h0M1278.1 216.7h0M1284.3 211.2h0M1290.5 205.7h0M1296.7 199.9h0M1302.9 194.8h0M1309 190.8h0M1315.2 187.9h0M1321.4 185.3h0M1327.6 182.8h0M1333.8 180.4h0M1339.9 178.3h0M1346.1 176.1h0M1352.3 174.1h0M1358.5 172.5h0M1364.7 171.1h0M1370.8 170h0M1377 168.8h0M1383.2 168h0M1445 159.8h0M1506.8 154.9h0M1568.6 152.4h0M1630.4 151.7h0" fill="none" stroke="#ffa500" stroke-width="4.9" stroke-linecap="round"/>
<path d="M1197.8 444.6L1204 397.4L1210.2 372.7L1216.3 350.8L1222.5 329.1L1228.7 309.4L1234.9 291.1L1241.1 274.9L1247.2 261.3L1253.4 249.1L1259.6 236.2L1265.8 224L1272 215.3L1278.1 206.3L1284.3 198.5L1290.5 191.4L1296.7 185.5L1302.9 180L1309 175L1315.2 170L1321.4 166.4L1327.6 163L1333.8 160.4L1339.9 157.9L1346.1 155.8L1352.3 153.8L1358.5 151.8L1364.7 150L1370.8 148.2L1377 146.6L1383.2 145.2L1445 142L1506.8 138.7L1568.6 137.6L1630.4 137.6" fill="none" stroke="#696969" stroke-width="1.6" stroke-linejoin="round"/>
<path d="M1197.8 444.6h0M1204 397.4h0M1210.2 372.7h0M1216.3 350.8h0M1222.5 329.1h0M1228.7 309.4h0M1234.9 291.1h0M1241.1 274.9h0M1247.2 261.3h0M1253.4 249.1h0M1259.6 236.2h0M1265.8 224h0M1272 215.3h0M1278.1 206.3h0M1284.3 198.5h0M1290.5 191.4h0M1296.7 185.5h0M1302.9 180h0M1309 175h0M1315.2 170h0M1321.4 166.4h0M1327.6 163h0M1333.8 160.4h0M1339.9 157.9h0M1346.1 155.8h0M1352.3 153.8h0M1358.5 151.8h0M1364.7 150h0M1370.8 148.2h0M1377 146.6h0M1383.2 145.2h0M1445 142h0M1506.8 138.7h0M1568.6 137.6h0M1630.4 137.6h0" fill="none" stroke="#696969" stroke-width="4.6" stroke-linecap="round"/>
<path d="M1210.2 492L1216.3 449.4L1222.5 410.5L1228.7 376.2L1234.9 344.1L1241.1 316.6L1247.2 289.9L1253.4 268.3L1259.6 248.8L1265.8 231.8L1272 216.9L1278.1 203.9L1284.3 193L1290.5 181.4L1296.7 173.2L1302.9 166.6L1309 160.2L1315.2 155.3L1321.4 151.1L1327.6 147.2L1333.8 143.6L1339.9 140.5L1346.1 137.7L1352.3 135.4L1358.5 133.4L1364.7 131.8L1370.8 130.4L1377 129.1L1383.2 127.9L1445 125.1L1506.8 122.4L1568.6 123L1630.4 125" fill="none" stroke="#008b8b" stroke-width="1.9" stroke-linejoin="round"/>
<path d="M1216.3 449.4h0M1222.5 410.5h0M1228.7 376.2h0M1234.9 344.1h0M1241.1 316.6h0M1247.2 289.9h0M1253.4 268.3h0M1259.6 248.8h0M1265.8 231.8h0M1272 216.9h0M1278.1 203.9h0M1284.3 193h0M1290.5 181.4h0M1296.7 173.2h0M1302.9 166.6h0M1309 160.2h0M1315.2 155.3h0M1321.4 151.1h0M1327.6 147.2h0M1333.8 143.6h0M1339.9 140.5h0M1346.1 137.7h0M1352.3 135.4h0M1358.5 133.4h0M1364.7 131.8h0M1370.8 130.4h0M1377 129.1h0M1383.2 127.9h0M1445 125.1h0M1506.8 122.4h0M1568.6 123h0M1630.4 125h0" fill="none" stroke="#008b8b" stroke-width="4.9" stroke-linecap="round"/>
<path d="M1241.1 496L1247.2 432.4L1253.4 374.9L1259.6 321.6L1265.8 282.4L1272 248.7L1278.1 220.3L1284.3 197.8L1290.5 177.6L1296.7 162.4L1302.9 149.6L1309 139.3L1315.2 130.5L1321.4 123L1327.6 117.3L1333.8 112.6L1339.9 109.6L1346.1 106.9L1352.3 104.9L1358.5 103.6L1364.7 102.6L1370.8 101.9L1377 101.2L1383.2 100.7L1445 100.7L1506.8 101.5L1568.6 104L1630.4 105.4" fill="none" stroke="#0000ff" stroke-width="1.9" stroke-linejoin="round"/>
<path d="M1247.2 432.4h0M1253.4 374.9h0M1259.6 321.6h0M1265.8 282.4h0M1272 248.7h0M1278.1 220.3h0M1284.3 197.8h0M1290.5 177.6h0M1296.7 162.4h0M1302.9 149.6h0M1309 139.3h0M1315.2 130.5h0M1321.4 123h0M1327.6 117.3h0M1333.8 112.6h0M1339.9 109.6h0M1346.1 106.9h0M1352.3 104.9h0M1358.5 103.6h0M1364.7 102.6h0M1370.8 101.9h0M1377 101.2h0M1383.2 100.7h0M1445 100.7h0M1506.8 101.5h0M1568.6 104h0M1630.4 105.4h0" fill="none" stroke="#0000ff" stroke-width="5" stroke-linecap="round"/>
<path d="M1265.8 552L1272 436.1L1278.1 339.1L1284.3 265.8L1290.5 213.6L1296.7 177.4L1302.9 150.5L1309 131.6L1315.2 117.3L1321.4 104.4L1327.6 94.1L1333.8 84.9L1339.9 78.2L1346.1 73.7L1352.3 69.9L1358.5 67.9L1364.7 66.9L1370.8 66.4L1377 66.1L1383.2 65.8L1445 68.1L1506.8 71.2L1568.6 74.2L1630.4 76.7" fill="none" stroke="#8a2be2" stroke-width="1.6" stroke-linejoin="round"/>
<path d="M1272 436.1h0M1278.1 339.1h0M1284.3 265.8h0M1290.5 213.6h0M1296.7 177.4h0M1302.9 150.5h0M1309 131.6h0M1315.2 117.3h0M1321.4 104.4h0M1327.6 94.1h0M1333.8 84.9h0M1339.9 78.2h0M1346.1 73.7h0M1352.3 69.9h0M1358.5 67.9h0M1364.7 66.9h0M1370.8 66.4h0M1377 66.1h0M1383.2 65.8h0M1445 68.1h0M1506.8 71.2h0M1568.6 74.2h0M1630.4 76.7h0" fill="none" stroke="#8a2be2" stroke-width="4.5" stroke-linecap="round"/>
<path d="M1333.5 61.7L1630.3 76.7" stroke="#000" stroke-width="1.6" fill="none"/>
<path d="M1339.7 95.4L1630.3 105.4" stroke="#000" stroke-width="1.6" fill="none"/>
<path d="M1339.7 121.1L1630.3 125" stroke="#000" stroke-width="1.6" fill="none"/>
<path d="M1352.2 139.9L1630.3 137.7" stroke="#000" stroke-width="1.6" fill="none"/>
<path d="M1352.3 159.6L1630.3 151.6" stroke="#000" stroke-width="1.6" fill="none"/>
<path d="M1346.5 182L1630.3 168.7" stroke="#000" stroke-width="1.6" fill="none"/>
<path d="M1497.2 153.9l2-1" stroke="#000" stroke-width="1.8"/>
</g>
<text class="t" x="1259.1" y="500" text-anchor="middle">4.0</text>
<text class="t" x="1382.7" y="500" text-anchor="middle">5.0</text>
<text class="t" x="1506.3" y="500" text-anchor="middle">6.0</text>
<text class="t" x="1629.9" y="500" text-anchor="middle">7.0</text>
<text class="t" x="1191.3" y="480.2" text-anchor="end">600</text>
<text class="t" x="1191.3" y="365.6" text-anchor="end">700</text>
<text class="t" x="1191.3" y="251.1" text-anchor="end">800</text>
<text class="t" x="1191.3" y="136.6" text-anchor="end">900</text>
<text class="t" x="1191.3" y="22" text-anchor="end">1000</text>
<text class="u" x="1438.7" y="527.6" text-anchor="middle">Magnetic field (T)</text>
<text class="b" x="1112.6" y="21.6">c</text>
<text class="u" x="1533.2" y="439.2">Film MG2</text>
<path d="M1513.2 240.2H1552.8" stroke="#8a2be2" stroke-width="1.6"/>
<circle cx="1532.6" cy="240.2" r="7" fill="#8a2be2"/>
<text class="l" x="1562.2" y="247.6">30 mK</text>
<path d="M1513.2 264.6H1552.8" stroke="#0000ff" stroke-width="1.6"/>
<circle cx="1532.6" cy="264.6" r="7" fill="#0000ff"/>
<text class="l" x="1562.2" y="272">100 mK</text>
<path d="M1513.2 289H1552.8" stroke="#008b8b" stroke-width="1.6"/>
<circle cx="1532.6" cy="289" r="7" fill="#008b8b"/>
<text class="l" x="1562.2" y="296.4">200 mK</text>
<path d="M1513.2 313.4H1552.8" stroke="#ffa500" stroke-width="1.6"/>
<circle cx="1532.6" cy="313.4" r="7" fill="#ffa500"/>
<text class="l" x="1562.2" y="320.8">500 mK</text>
<path d="M1513.2 337.8H1552.8" stroke="#ff0000" stroke-width="1.6"/>
<circle cx="1532.6" cy="337.8" r="7" fill="#ff0000"/>
<text class="l" x="1562.2" y="345.2">800 mK</text>
</g>
</svg></body></html>
